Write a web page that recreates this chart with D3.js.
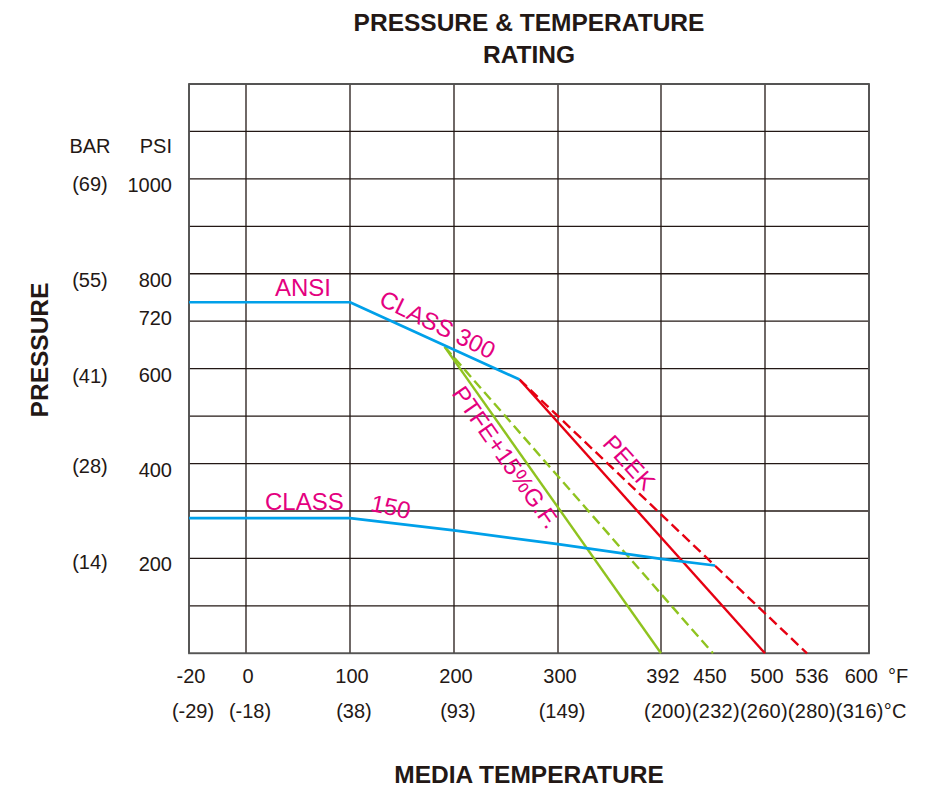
<!DOCTYPE html>
<html>
<head>
<meta charset="utf-8">
<script src="https://cdn.jsdelivr.net/npm/d3@7"></script>
<style>
  html, body { margin: 0; padding: 0; background: #fff; }
  svg text { font-family: "Liberation Sans", Arial, Helvetica, sans-serif; }
</style>
</head>
<body>
<svg id="chart" width="926" height="787"></svg>
<script>
// ---- data ----
const xTicksF = [-20, 0, 100, 200, 300, 392, 450, 500, 536, 600];
const xTicksC = ["(-29)", "(-18)", "(38)", "(93)", "(149)", "(200)", "(232)", "(260)", "(280)", "(316)"];
const xGridF = [-20, 0, 100, 200, 300, 392, 500, 600];
const yGridPsi = [0, 100, 200, 300, 400, 500, 600, 700, 800, 900, 1000, 1100, 1200];
const psiTicks = [1000, 800, 720, 600, 400, 200];
const barTicks = [69, 55, 41, 28, 14];

const class300F = [-20, 100, 263];
const class300Psi = [740, 740, 577];
const class150F = [-20, 100, 200, 300, 392, 452];
const class150Psi = [285, 285, 259, 230, 199, 185];
const ptfeF = [191, 392];
const ptfePsi = [646, 0];
const ptfeDashF = [191, 450];
const ptfeDashPsi = [646, 0];
const peekF = [263, 500];
const peekPsi = [577, 0];
const peekDashF = [263, 536];
const peekDashPsi = [577, 0];

// ---- scales ----
const x = d3.scaleLinear()
  .domain([-20, 0, 300, 392, 450, 500, 536, 600])
  .range([189, 246, 558, 661, 713, 765, 807, 869]);
const y = d3.scaleLinear().domain([0, 1200]).range([653.3, 84]);
const PSI_PER_BAR = 14.5038;
const yBar = d3.scaleLinear().domain([0, 1200 / PSI_PER_BAR]).range([653.3, 84]);

const INK = "#231815";
const BLUE = "#00a0e9", GREEN = "#8fc31f", RED = "#e60012", MAG = "#e4007f";

const svg = d3.select("#chart");
svg.append("rect").attr("width", 926).attr("height", 787).attr("fill", "#fff");

// ---- grid ----
const grid = svg.append("g");
grid.selectAll("line.h").data(yGridPsi).join("line")
  .attr("x1", x(-20)).attr("x2", x(600))
  .attr("y1", d => y(d)).attr("y2", d => y(d))
  .attr("stroke", INK).attr("stroke-width", 1.3);
grid.selectAll("line.v").data(xGridF).join("line")
  .attr("y1", y(0)).attr("y2", y(1200))
  .attr("x1", d => x(d)).attr("x2", d => x(d))
  .attr("stroke", INK).attr("stroke-width", 1.3);
grid.append("rect")
  .attr("x", x(-20)).attr("y", y(1200))
  .attr("width", x(600) - x(-20)).attr("height", y(0) - y(1200))
  .attr("fill", "none").attr("stroke", "#555").attr("stroke-width", 1.8);

// ---- series ----
const line = d3.line().x(d => x(d[0])).y(d => y(d[1]));
function series(fs, ps, color, width, dash) {
  svg.append("path")
    .datum(fs.map((f, i) => [f, ps[i]]))
    .attr("d", line)
    .attr("fill", "none")
    .attr("stroke", color)
    .attr("stroke-width", width)
    .attr("stroke-linejoin", "round")
    .attr("stroke-dasharray", dash || null);
}
series(ptfeDashF, ptfeDashPsi, GREEN, 2.4, "10,5");
series(ptfeF, ptfePsi, GREEN, 2.4);
series(peekDashF, peekDashPsi, RED, 2.4, "10,5");
series(peekF, peekPsi, RED, 2.4);
series(class150F, class150Psi, BLUE, 2.7);
series(class300F, class300Psi, BLUE, 2.7);

// ---- annotations ----
function label(txt, px, py, rot, anchor) {
  svg.append("text")
    .attr("transform", `translate(${px},${py}) rotate(${rot})`)
    .attr("text-anchor", anchor || "middle")
    .attr("fill", MAG).attr("font-size", 24)
    .text(txt);
}
label("ANSI", 303, 296, 0);
label("CLASS 300", 434, 332, 26);
label("CLASS", 265, 510, 0, "start");
label("150", 389, 515, 12);
label("PTFE+15%G.F.", 499, 462, 55);
label("PEEK", 623, 468, 48);

// ---- axis text ----
const lastF = xTicksF.length - 1;
const fOffset = d => d === 450 ? -3 : d === 536 ? 5 : 2;
const tickF = svg.append("g").attr("font-size", 20).attr("fill", INK);
tickF.selectAll("text").data(xTicksF).join("text")
  .attr("x", (d, i) => i === lastF ? x(d) + 9 : x(d) + fOffset(d))
  .attr("y", 683)
  .attr("text-anchor", (d, i) => i === lastF ? "end" : "middle")
  .text(d => d);
tickF.append("text").attr("x", 888).attr("y", 683).text("°F");

// Celsius: first five centred under their gridlines, the crowded rest set as one run
const tickC = svg.append("g").attr("font-size", 20).attr("fill", INK);
tickC.selectAll("text.c").data(xTicksC.slice(0, 5)).join("text")
  .attr("x", (d, i) => x(xTicksF[i]) + 4)
  .attr("y", 718)
  .attr("text-anchor", "middle")
  .text(d => d);
const run = tickC.append("text")
  .attr("x", x(xTicksF[5]) - 17).attr("y", 718)
  .attr("letter-spacing", 0.25);
run.selectAll("tspan").data(xTicksC.slice(5).concat(["°C"])).join("tspan").text(d => d);

const tickY = svg.append("g").attr("font-size", 20).attr("fill", INK);
tickY.selectAll("text.psi").data(psiTicks).join("text")
  .attr("x", 172).attr("y", d => y(d) + 13)
  .attr("text-anchor", "end").text(d => d);
tickY.append("g").selectAll("text").data(barTicks).join("text")
  .attr("x", 90).attr("y", d => yBar(d) + 12)
  .attr("text-anchor", "middle").text(d => `(${d})`);
tickY.append("text").attr("x", 90).attr("y", 153).attr("text-anchor", "middle").text("BAR");
tickY.append("text").attr("x", 172).attr("y", 153).attr("text-anchor", "end").text("PSI");

// ---- titles ----
const titles = svg.append("g").attr("font-weight", "bold").attr("font-size", 24.5)
  .attr("fill", INK).attr("text-anchor", "middle");
titles.append("text").attr("x", 529).attr("y", 31).text("PRESSURE & TEMPERATURE");
titles.append("text").attr("x", 529).attr("y", 63).text("RATING");
titles.append("text").attr("x", 529).attr("y", 783).text("MEDIA TEMPERATURE");
titles.append("text").attr("transform", "translate(48,350) rotate(-90)").text("PRESSURE");
</script>
</body>
</html>
